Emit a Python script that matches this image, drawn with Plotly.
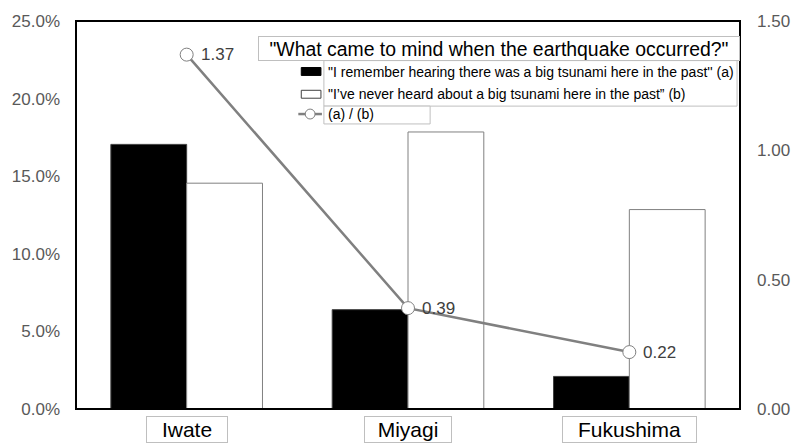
import plotly.graph_objects as go

# Survey results by prefecture
prefectures = ["Iwate", "Miyagi", "Fukushima"]
heard_before = [0.1705, 0.0640, 0.0210]      # (a) share of respondents
never_heard = [0.1455, 0.1785, 0.1285]       # (b) share of respondents
ratio_ab = [1.37, 0.39, 0.22]                 # (a) / (b)

title_text = '"What came to mind when the earthquake occurred?"'
legend_a = '"I remember hearing there was a big tsunami here in the past\'\' (a)'
legend_b = '"I\u2019ve never heard about a big tsunami here in the past\u201d (b)'
legend_c = "(a) / (b)"

W, H = 802, 444
L, R, T, B = 73, 748, 17, 409
FONT = "Liberation Sans, Arial, sans-serif"
GRAY = "#808080"
BOX = "#bfbfbf"


def px(x):
    return (x - L) / (R - L)


def py(y):
    return (B - y) / (B - T)


fig = go.Figure()

fig.add_trace(go.Bar(
    x=prefectures, y=heard_before, name=legend_a,
    marker=dict(color="black", line=dict(color="#404040", width=1)),
    yaxis="y", showlegend=False,
))
fig.add_trace(go.Bar(
    x=prefectures, y=never_heard, name=legend_b,
    marker=dict(color="white", line=dict(color=GRAY, width=1)),
    yaxis="y", showlegend=False,
))
fig.add_trace(go.Scatter(
    x=prefectures, y=ratio_ab, name=legend_c, yaxis="y2",
    mode="lines+markers",
    line=dict(color=GRAY, width=2.5),
    marker=dict(symbol="circle", size=13, color="white",
                line=dict(color=GRAY, width=1)),
    cliponaxis=False, showlegend=False,
))

annotations = []
shapes = []

# value labels beside the ratio markers
for name, val in zip(prefectures, ratio_ab):
    annotations.append(dict(
        x=name, y=val, xref="x", yref="y2", xanchor="left", yanchor="middle",
        xshift=12, text=f"{val:.2f}", showarrow=False,
        font=dict(family=FONT, size=17, color="#404040"),
    ))

# plot frame
shapes.append(dict(type="rect", xref="paper", yref="paper", x0=0, x1=1, y0=0, y1=1,
                   line=dict(color="black", width=2), layer="above"))

# category labels in boxes under the axis
box_widths = {"Iwate": 80, "Miyagi": 86, "Fukushima": 133}
for name in prefectures:
    annotations.append(dict(
        x=name, y=0, xref="x", yref="y", yanchor="top", yshift=-7,
        text=name, showarrow=False, width=box_widths[name], height=25,
        bordercolor=BOX, borderwidth=1, borderpad=0, bgcolor="white",
        font=dict(family=FONT, size=21, color="black"),
    ))

# title box
annotations.append(dict(
    x=px(258), y=py(32), xref="paper", yref="paper", xanchor="left", yanchor="top",
    text=title_text, showarrow=False, width=480, height=23,
    bordercolor=BOX, borderwidth=1, borderpad=0, bgcolor="white",
    font=dict(family=FONT, size=19.4, color="black"),
))

# legend boxes
shapes.append(dict(type="rect", xref="paper", yref="paper",
                   x0=px(325), x1=px(745), y0=py(103), y1=py(57),
                   line=dict(color=BOX, width=1), fillcolor="white", layer="above"))
shapes.append(dict(type="rect", xref="paper", yref="paper",
                   x0=px(325), x1=px(433), y0=py(121), y1=py(103),
                   line=dict(color=BOX, width=1), fillcolor="white", layer="above"))

# legend swatches
shapes.append(dict(type="rect", xref="paper", yref="paper",
                   x0=px(302), x1=px(322), y0=py(72), y1=py(64),
                   line=dict(color="black", width=1), fillcolor="black", layer="above"))
shapes.append(dict(type="rect", xref="paper", yref="paper",
                   x0=px(302), x1=px(322), y0=py(95), y1=py(87),
                   line=dict(color="#404040", width=1), fillcolor="white", layer="above"))
shapes.append(dict(type="line", xref="paper", yref="paper",
                   x0=px(299), x1=px(323), y0=py(111), y1=py(111),
                   line=dict(color=GRAY, width=2.5), layer="above"))
shapes.append(dict(type="circle", xref="paper", yref="paper",
                   x0=px(306), x1=px(316), y0=py(116), y1=py(106),
                   line=dict(color=GRAY, width=1), fillcolor="white", layer="above"))

for text, y in [(legend_a, 69), (legend_b, 91), (legend_c, 111)]:
    annotations.append(dict(
        x=px(327), y=py(y), xref="paper", yref="paper", xanchor="left", yanchor="middle",
        text=text, showarrow=False,
        font=dict(family=FONT, size=14, color="black"),
    ))

fig.update_layout(
    width=W, height=H,
    margin=dict(l=L, r=W - R, t=T, b=H - B, pad=0),
    paper_bgcolor="white", plot_bgcolor="white",
    barmode="group", bargap=0.315, bargroupgap=0,
    font=dict(family=FONT, size=17, color="#595959"),
    xaxis=dict(showticklabels=False, showgrid=False, zeroline=False, showline=False,
               ticks=""),
    yaxis=dict(range=[0, 0.25], dtick=0.05, tickformat=".1%", showgrid=False,
               zeroline=False, showline=False, ticks="", ticklabelstandoff=15,
               tickfont=dict(family=FONT, size=17, color="#595959")),
    yaxis2=dict(range=[0, 1.5], dtick=0.5, tickformat=".2f", overlaying="y",
                side="right", showgrid=False, zeroline=False, showline=False,
                ticks="", ticklabelstandoff=16,
                tickfont=dict(family=FONT, size=17, color="#595959")),
    shapes=shapes, annotations=annotations, showlegend=False,
)

fig.write_html("out.html")
